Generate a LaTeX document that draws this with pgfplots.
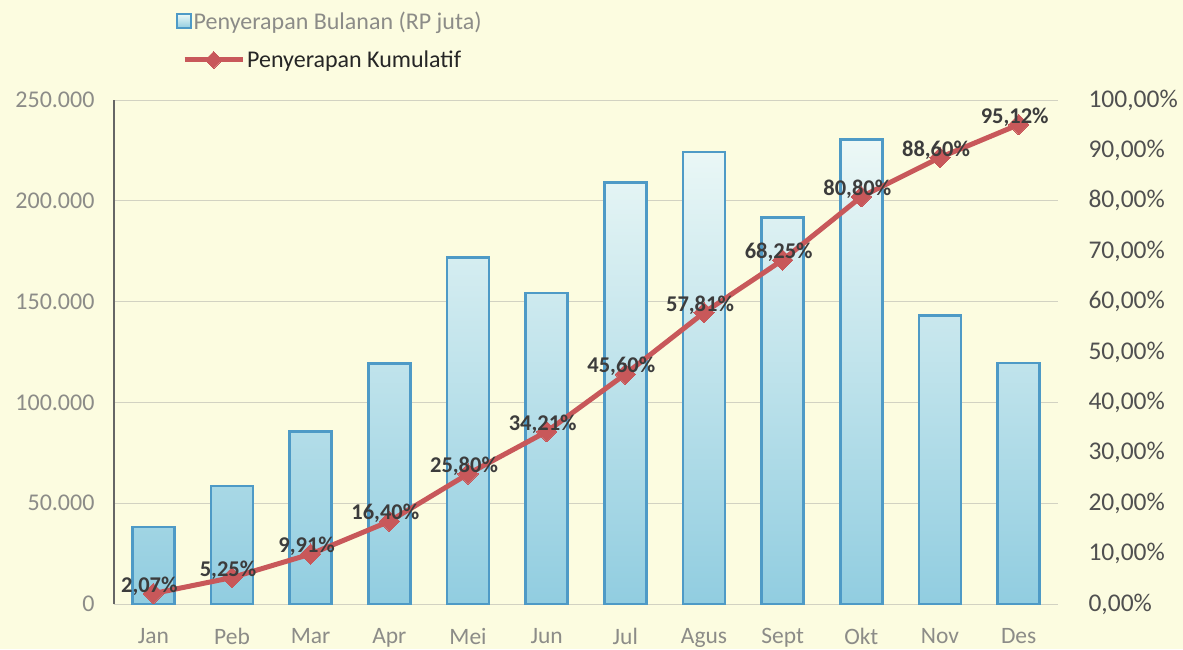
\documentclass[border=0pt]{standalone}
\usepackage{pgfplots}
\pgfplotsset{compat=1.18}
\usepackage{fontspec}
\setmainfont{Carlito}
\definecolor{bg}{RGB}{252,252,224}
\definecolor{barblue}{RGB}{78,154,198}
\definecolor{bartop}{RGB}{236,248,246}
\definecolor{barmid}{RGB}{212,237,240}
\definecolor{barbot}{RGB}{145,205,224}
\definecolor{linered}{RGB}{200,88,90}
\definecolor{gridc}{RGB}{210,210,194}
\definecolor{lefttick}{RGB}{140,140,136}
\definecolor{righttick}{RGB}{80,80,80}
\definecolor{lbl}{RGB}{60,60,60}
\begin{document}
\begin{tikzpicture}
\fill[bg] (0pt,0pt) rectangle (1183pt,649pt);
\begin{axis}[
  at={(114pt,45pt)}, anchor=south west,
  scale only axis, width=944pt, height=504pt,
  xmin=-0.5, xmax=11.5, ymin=0, ymax=250000,
  scaled y ticks=false,
  axis x line*=bottom, axis y line*=left,
  x axis line style={draw=gridc, line width=1pt, -},
  y axis line style={draw=black!60, line width=1.5pt, -},
  xtick={0,...,11},
  xticklabels={Jan,Peb,Mar,Apr,Mei,Jun,Jul,Agus,Sept,Okt,Nov,Des},
  ytick={0,50000,100000,150000,200000,250000},
  yticklabels={0,50.000,100.000,150.000,200.000,250.000},
  major tick length=0pt,
  ymajorgrids, grid style={draw=gridc, line width=1pt},
  xticklabel style={font=\fontsize{23.5}{23.5}\selectfont, text=lefttick, yshift=-21pt},
  yticklabel style={font=\fontsize{24}{24}\selectfont, text=lefttick, xshift=-16pt},
  /pgf/number format/assume math mode=true,
  ybar, bar width=42pt,
  legend image code/.code={\draw[#1, line width=1.5pt] (0pt,-7pt) rectangle (14pt,7pt);},
  legend style={at={(0.0657,1.1567)}, anchor=west, draw=none, fill=none,
    font=\fontsize{24}{24}\selectfont, inner sep=0pt},
]
\addplot[draw=barblue, line width=2.6pt, top color=bartop, middle color=barmid, bottom color=barbot]
  coordinates {(0,38100) (1,58500) (2,85700) (3,119400) (4,172000) (5,154200)
               (6,209000) (7,224200) (8,191600) (9,230300) (10,143000) (11,119500)};
\addlegendentry[text=lefttick]{Penyerapan Bulanan (RP juta)}
\end{axis}
\begin{axis}[
  at={(114pt,45pt)}, anchor=south west,
  scale only axis, width=944pt, height=504pt,
  xmin=-0.5, xmax=11.5, ymin=0, ymax=100,
  axis x line=none, axis y line*=right,
  y axis line style={draw=none},
  ytick={0,10,...,100},
  yticklabels={{0,00\%},{10,00\%},{20,00\%},{30,00\%},{40,00\%},{50,00\%},{60,00\%},{70,00\%},{80,00\%},{90,00\%},{100,00\%}},
  major tick length=0pt,
  yticklabel style={font=\fontsize{25.5}{25.5}\selectfont, text=righttick, xshift=27pt},
  clip=false,
  legend image code/.code={\draw[mark repeat=2, mark phase=2, #1, mark size=6pt] plot coordinates {(0pt,0pt) (29pt,0pt) (58pt,0pt)};},
  legend style={at={(0.072,1.0794)}, anchor=west, draw=none, fill=none,
    font=\fontsize{24}{24}\selectfont, inner sep=0pt},
]
\addplot[color=linered, line width=5pt, mark=square*, mark size=7.2pt,
  mark options={line width=0pt, rotate=45},
  point meta=explicit symbolic,
  nodes near coords,
  nodes near coords style={font=\bfseries\fontsize{22.5}{22.5}\selectfont, text=lbl, anchor=south, yshift=-5pt, xshift=-4pt, rotate=0}]
  coordinates {(0,2.07) [2,07\%] (1,5.25) [5,25\%] (2,9.91) [9,91\%] (3,16.40) [16,40\%]
               (4,25.80) [25,80\%] (5,34.21) [34,21\%] (6,45.60) [45,60\%] (7,57.81) [57,81\%]
               (8,68.25) [68,25\%] (9,80.80) [80,80\%] (10,88.60) [88,60\%] (11,95.12) [95,12\%]};
\addlegendentry[text=black!85]{Penyerapan Kumulatif}
\end{axis}
\pgfresetboundingbox
\path[use as bounding box] (0pt,0pt) rectangle (1183pt,649pt);
\end{tikzpicture}
\end{document}
